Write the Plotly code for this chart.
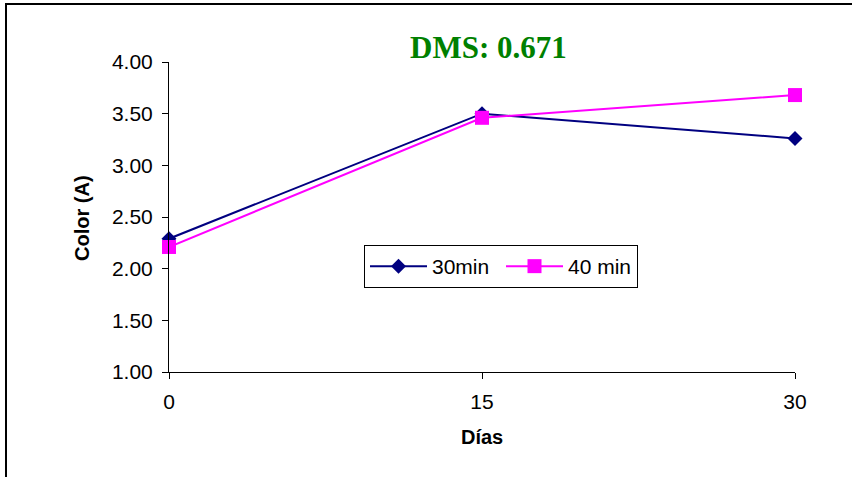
import plotly.graph_objects as go

dias = [0, 15, 30]
serie_30min = [2.29, 3.50, 3.26]
serie_40min = [2.21, 3.46, 3.68]
y_ticks = [1.0, 1.5, 2.0, 2.5, 3.0, 3.5, 4.0]
y_tick_labels = ["1.00", "1.50", "2.00", "2.50", "3.00", "3.50", "4.00"]

W, H = 852, 477
L, R, T, B = 169, 795, 62, 372
PW, PH = R - L, B - T


def px(x):
    return (x - L) / PW


def py(y):
    return (B - y) / PH


fig = go.Figure()
fig.add_trace(go.Scatter(x=dias, y=serie_30min, name="30min", mode="lines+markers",
                         line=dict(color="#000080", width=2),
                         marker=dict(symbol="diamond", size=11.5, color="#000080"),
                         cliponaxis=False))
fig.add_trace(go.Scatter(x=dias, y=serie_40min, name="40 min", mode="lines+markers",
                         line=dict(color="#FF00FF", width=2),
                         marker=dict(symbol="square", size=14, color="#FF00FF"),
                         cliponaxis=False))

fig.update_layout(
    width=W, height=H,
    paper_bgcolor="white", plot_bgcolor="white",
    margin=dict(l=L, r=W - R, t=T, b=H - B, pad=0),
    font=dict(family="Liberation Sans, Arial", size=21, color="black"),
    showlegend=True,
    legend=dict(orientation="h", x=px(364), y=py(245), xanchor="left", yanchor="top",
                bordercolor="black", borderwidth=1, bgcolor="white",
                font=dict(size=21), itemwidth=57, entrywidth=64, entrywidthmode="pixels"),
    annotations=[
        dict(text="<b>DMS: 0.671</b>", x=px(488), y=py(47), xref="paper", yref="paper",
             xanchor="center", yanchor="middle", showarrow=False,
             font=dict(family="Liberation Serif, Times New Roman", size=31, color="#008000")),
        dict(text="<b>Días</b>", x=px(482), y=py(437), xref="paper", yref="paper",
             xanchor="center", yanchor="middle", showarrow=False, font=dict(size=20)),
        dict(text="<b>Color (A)</b>", x=px(82), y=py(218), xref="paper", yref="paper",
             xanchor="center", yanchor="middle", showarrow=False, textangle=-90,
             font=dict(size=20)),
    ],
)

fig.update_xaxes(range=[0, 30], tickvals=dias, ticktext=["0", "15", "30"],
                 showgrid=False, zeroline=False, showline=True, linecolor="black", linewidth=1,
                 ticks="outside", ticklen=6, tickcolor="black", ticklabelstandoff=5)
fig.update_yaxes(range=[1, 4], tickvals=y_ticks, ticktext=y_tick_labels,
                 showgrid=False, zeroline=False, showline=True, linecolor="black", linewidth=1,
                 ticks="outside", ticklen=6, tickcolor="black", ticklabelstandoff=5)

fig.add_shape(type="rect", xref="paper", yref="paper",
              x0=px(6), x1=px(W + 10), y0=py(H + 10), y1=py(4),
              line=dict(color="black", width=2), fillcolor="rgba(0,0,0,0)", layer="below")

fig.write_html("out.html", config={"displayModeBar": False},
               post_script="document.body.style.margin='0';")
